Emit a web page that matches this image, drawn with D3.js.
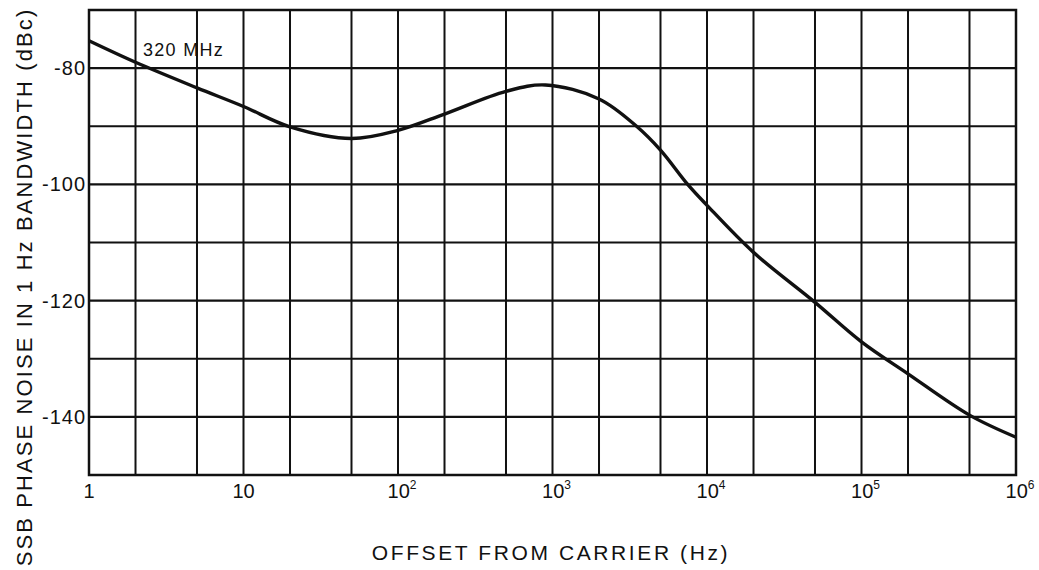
<!DOCTYPE html>
<html><head><meta charset="utf-8">
<script src="https://cdn.jsdelivr.net/npm/d3@7"></script>
<style>body{margin:0;background:#fff}svg{display:block}text{font-family:"Liberation Sans",Arial,sans-serif;fill:#111}</style>
</head><body>
<svg id="c" width="1039" height="570"></svg>
<script>
const freqs = [1, 2, 5, 10, 20, 50, 100, 200, 500, 900, 2000, 3500, 5000, 7500, 1e4, 2e4, 5e4, 1e5, 2e5, 5e5, 1e6];
const noise = [-75.3, -79.0, -83.4, -86.6, -90.1, -92.1, -90.7, -87.9, -84.0, -82.9, -85.3, -90.0, -94.1, -100.0, -103.6, -111.7, -120.3, -127.1, -132.6, -139.7, -143.5];
const xMajor = [1, 10, 100, 1000, 1e4, 1e5, 1e6];
const xMajorLabels = [["1",""],["10",""],["10","2"],["10","3"],["10","4"],["10","5"],["10","6"]];
const xGrid = [1,2,5,10,20,50,100,200,500,1000,2000,5000,1e4,2e4,5e4,1e5,2e5,5e5,1e6];
const yGrid = [-70,-80,-90,-100,-110,-120,-130,-140,-150];
const yTicks = [-80,-100,-120,-140];
const curveLabel = "320 MHz";
const xTitle = "OFFSET FROM CARRIER (Hz)";
const yTitle = "SSB PHASE NOISE IN 1 Hz BANDWIDTH (dBc)";

const L=89, R=1016, T=10, B=475;
const svg = d3.select("#c");
const x = d3.scaleLog().domain([1,1e6]).range([L,R]);
const y = d3.scaleLinear().domain([-150,-70]).range([B,T]);

const g = svg.append("g");
g.selectAll("line.v").data(xGrid).join("line")
  .attr("x1",d=>x(d)).attr("x2",d=>x(d)).attr("y1",T).attr("y2",B)
  .attr("stroke","#111").attr("stroke-width",2);
g.selectAll("line.h").data(yGrid).join("line")
  .attr("y1",d=>y(d)).attr("y2",d=>y(d)).attr("x1",L).attr("x2",R)
  .attr("stroke","#111").attr("stroke-width",2.2);
g.append("rect").attr("x",L).attr("y",T).attr("width",R-L).attr("height",B-T)
  .attr("fill","none").attr("stroke","#111").attr("stroke-width",2.5);

// curve
const line = d3.line().x((d,i)=>x(freqs[i])).y(d=>y(d)).curve(d3.curveCatmullRom.alpha(0.5));
g.append("path").datum(noise).attr("d",line).attr("fill","none")
  .attr("stroke","#111").attr("stroke-width",3.4).attr("stroke-linejoin","round");

// curve label
g.append("text").attr("x",143).attr("y",y(-77.9)).attr("font-size",18).attr("letter-spacing",1.3).text(curveLabel);

// y ticks
g.selectAll("text.yt").data(yTicks).join("text")
  .attr("x",L-3).attr("y",d=>y(d)+7).attr("text-anchor","end")
  .attr("font-size",20).attr("letter-spacing",1).text(d=>d);

// x ticks
const xt = g.selectAll("text.xt").data(xMajor).join("text")
  .attr("x",(d,i)=>x(d)+(i>1?4:0)).attr("y",498).attr("text-anchor","middle").attr("font-size",20);
xt.append("tspan").text((d,i)=>xMajorLabels[i][0]);
xt.append("tspan").attr("dy",-9).attr("font-size",12).text((d,i)=>xMajorLabels[i][1]);

// titles
g.append("text").attr("x",551).attr("y",560).attr("text-anchor","middle")
  .attr("font-size",21).attr("letter-spacing",2.6).text(xTitle);
g.append("text").attr("transform","translate(32,287) rotate(-90)").attr("text-anchor","middle")
  .attr("font-size",22).attr("letter-spacing",2.1).text(yTitle);
</script>
</body></html>
